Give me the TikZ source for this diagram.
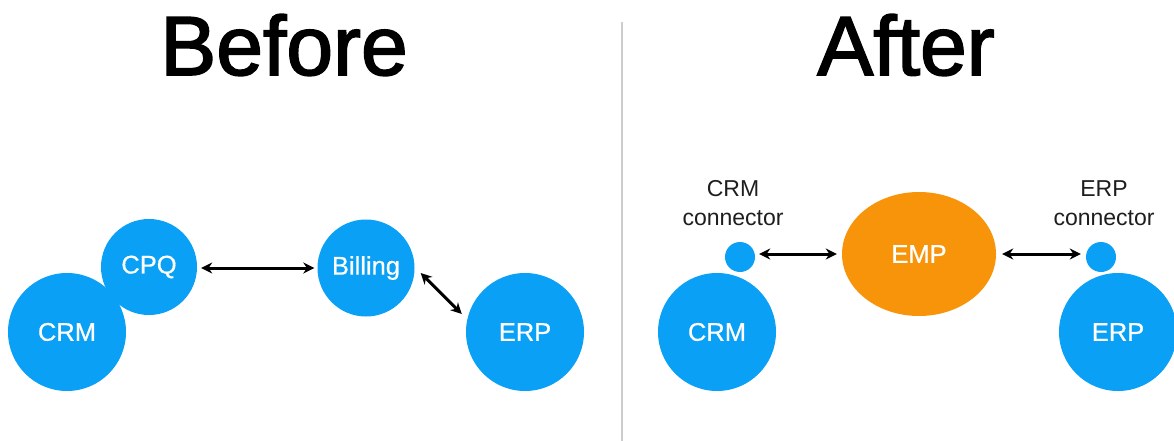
\documentclass[tikz,border=0pt]{standalone}
\usepackage{fontspec}
\setmainfont{Liberation Sans}
\newfontfamily\titlefont[FakeBold=2]{Liberation Sans}
\newfontfamily\nodefont[FakeBold=0.6]{Liberation Sans}
\usetikzlibrary{arrows.meta,shapes.geometric,calc}
\definecolor{sysblue}{RGB}{10,160,245}
\definecolor{emporange}{RGB}{248,148,10}
\definecolor{divgray}{RGB}{205,205,205}
\definecolor{labelblack}{RGB}{30,30,30}
\tikzset{
  sys/.style={circle,fill=sysblue,draw=none,inner sep=0pt,text=white,font=\nodefont\fontsize{25.5}{28}\selectfont},
  conn/.style={circle,fill=sysblue,draw=none,inner sep=0pt,minimum size=30pt},
  hub/.style={ellipse,fill=emporange,draw=none,inner sep=0pt,text=white,font=\nodefont\fontsize{25.5}{28}\selectfont,minimum width=154pt,minimum height=124pt},
  arr/.style={{Stealth[length=11pt,width=11pt]}-{Stealth[length=11pt,width=11pt]},line width=3pt,black},
  title/.style={font=\titlefont\fontsize{84}{90}\selectfont,anchor=base,text=black,inner sep=0pt},
  lbl/.style={font=\fontsize{23}{29}\selectfont,align=center,text=labelblack,inner sep=0pt}
}
\begin{document}
\begin{tikzpicture}[x=1pt,y=-1pt]
\useasboundingbox (0,0) rectangle (1174,441);
\clip (0,0) rectangle (1174,441);
\fill[white] (0,0) rectangle (1174,441);
% titles and divider
\node[title] (tb) at (284,75) {Before};
\node[title] (ta) at (906,75) {After};
\coordinate (dtop) at (622,22);
\coordinate (dbot) at (622,441);
\draw[divgray,line width=1.5pt] (dtop) -- (dbot);
% Before
\node[sys,minimum size=118pt] (crm1) at (67,332) {CRM};
\node[sys,minimum size=96pt] (cpq) at (149,267) {CPQ};
\node[sys,minimum size=97pt] (bill) at (366,268) {Billing};
\node[sys,minimum size=118pt] (erp1) at (525,332) {ERP};
\draw[arr] ($(cpq.east |- bill.west)+(4,0)$) -- ($(bill.west)+(-3,0)$);
\draw[arr] ($(bill.east)+(6,5)$) -- ($(erp1.west)+(-4,-18)$);
% After
\node[sys,minimum size=118pt] (crm2) at (717,332) {CRM};
\node[conn] (crmc) at (740,257) {};
\node[lbl] (crmcl) at (733,203) {CRM\\connector};
\node[hub] (emp) at (919,254) {EMP};
\node[conn] (erpc) at (1101,257) {};
\node[lbl] (erpcl) at (1104,203) {ERP\\connector};
\node[sys,minimum size=118pt] (erp2) at (1118,332) {ERP};
\draw[arr] ($(crmc.east |- emp.west)+(4,0)$) -- ($(emp.west)+(-5,0)$);
\draw[arr] ($(emp.east)+(6,0)$) -- ($(erpc.west |- emp.east)+(-5,0)$);
\end{tikzpicture}
\end{document}
